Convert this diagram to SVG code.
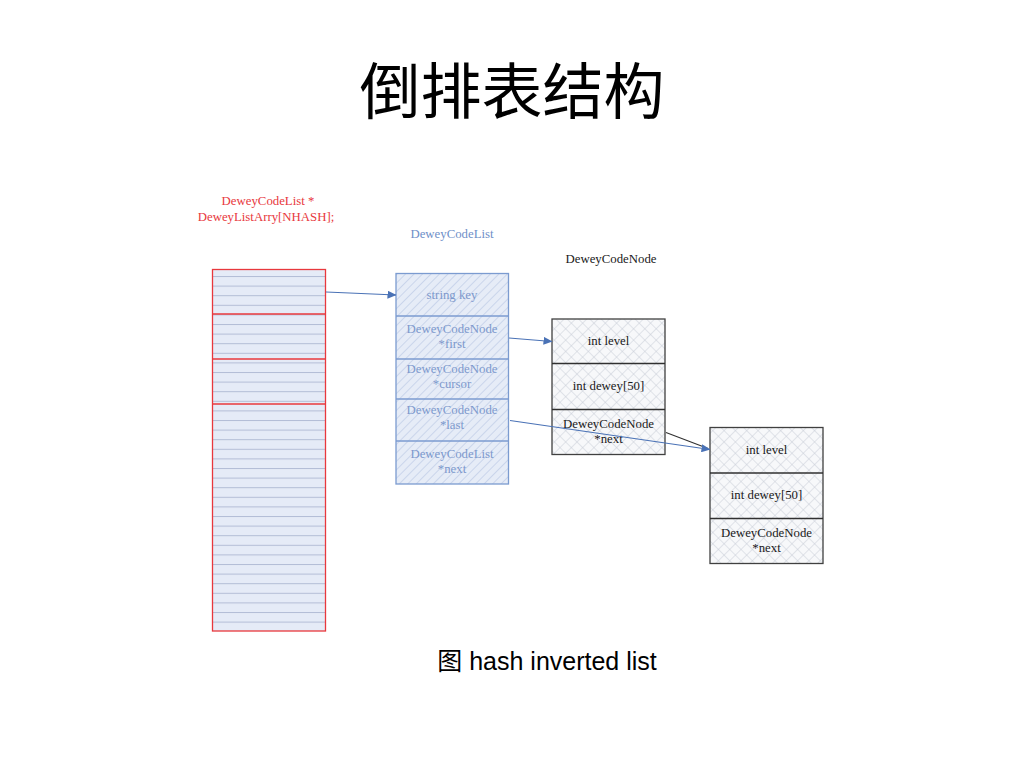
<svg xmlns="http://www.w3.org/2000/svg" width="1024" height="768" viewBox="0 0 1024 768">
<defs>
<style>
.t{font-family:"Liberation Serif","Times New Roman",serif;font-size:12.8px;text-anchor:middle}
.bt{fill:#7d99cd}
.kt{fill:#1a1a1a}
.conn{fill:none;stroke-width:1.1}
</style>
<pattern id="rows" patternUnits="userSpaceOnUse" x="0" y="276" width="20" height="9.6">
<rect width="20" height="9.6" fill="#e5ebf7"/>
<line x1="0" y1="0.4" x2="20" y2="0.4" stroke="#b3bdd6" stroke-width="1.2"/>
</pattern>
<pattern id="diag" patternUnits="userSpaceOnUse" width="6" height="6" patternTransform="rotate(45)">
<rect width="6" height="6" fill="#e6ecf7"/>
<line x1="0" y1="0" x2="0" y2="6" stroke="#c3cfe8" stroke-width="1.6"/>
</pattern>
<pattern id="cross" patternUnits="userSpaceOnUse" width="8" height="8" patternTransform="rotate(45)">
<rect width="8" height="8" fill="#f7f8fa"/>
<line x1="0" y1="0" x2="8" y2="0" stroke="#c8ccd6" stroke-width="1"/>
<line x1="0" y1="0" x2="0" y2="8" stroke="#c8ccd6" stroke-width="1"/>
</pattern>
<marker id="arr" markerWidth="9" markerHeight="8" refX="8.5" refY="4" orient="auto" markerUnits="userSpaceOnUse">
<path d="M0,0 L9,4 L0,8 Z" fill="#4a72b6"/>
</marker>
</defs>
<rect width="1024" height="768" fill="#ffffff"/>

<text x="512" y="114" font-family="Noto Sans CJK SC, sans-serif" font-size="61" text-anchor="middle" fill="#000">倒排表结构</text>

<g id="array-label">
<text x="268" y="205" class="t" font-size="13.3" fill="#e8383d">DeweyCodeList *</text>
<text x="266" y="221" class="t" font-size="13.3" fill="#e8383d">DeweyListArry[NHASH];</text>
</g>
<g id="list-label"><text x="452" y="238" class="t" font-size="13" fill="#6f8fc8">DeweyCodeList</text></g>
<g id="node-label"><text x="611" y="263" class="t kt" font-size="13">DeweyCodeNode</text></g>

<g id="hash-array">
<rect x="212.5" y="269.5" width="113" height="361.5" fill="url(#rows)" stroke="#e8383d" stroke-width="1.3"/>
<line x1="212.5" y1="314" x2="325.5" y2="314" stroke="#e8383d" stroke-width="1.6"/>
<line x1="212.5" y1="359" x2="325.5" y2="359" stroke="#e8383d" stroke-width="1.6"/>
<line x1="212.5" y1="404" x2="325.5" y2="404" stroke="#e8383d" stroke-width="1.6"/>
</g>

<g id="dewey-code-list">
<rect x="396" y="273.5" width="112.5" height="210.5" fill="url(#diag)" stroke="#7b9bd0" stroke-width="1.3"/>
<g stroke="#7b9bd0" stroke-width="1.3">
<line x1="396" y1="316" x2="508.5" y2="316"/>
<line x1="396" y1="359" x2="508.5" y2="359"/>
<line x1="396" y1="399" x2="508.5" y2="399"/>
<line x1="396" y1="441" x2="508.5" y2="441"/>
</g>
<text x="452" y="299" class="t bt">string key</text>
<text x="452" y="333" class="t bt">DeweyCodeNode</text>
<text x="452" y="348" class="t bt">*first</text>
<text x="452" y="373" class="t bt">DeweyCodeNode</text>
<text x="452" y="388" class="t bt">*cursor</text>
<text x="452" y="414" class="t bt">DeweyCodeNode</text>
<text x="452" y="429" class="t bt">*last</text>
<text x="452" y="458" class="t bt">DeweyCodeList</text>
<text x="452" y="473" class="t bt">*next</text>
</g>

<g id="node-1">
<rect x="552" y="319" width="113" height="135.5" fill="url(#cross)" stroke="#404040" stroke-width="1.3"/>
<g stroke="#303030" stroke-width="1.3">
<line x1="552" y1="363.5" x2="665" y2="363.5"/>
<line x1="552" y1="409.5" x2="665" y2="409.5"/>
</g>
<text x="608.5" y="345" class="t kt">int level</text>
<text x="608.5" y="390" class="t kt">int dewey[50]</text>
<text x="608.5" y="428" class="t kt">DeweyCodeNode</text>
<text x="608.5" y="443" class="t kt">*next</text>
</g>

<g id="node-2">
<rect x="710" y="427.5" width="113" height="136" fill="url(#cross)" stroke="#404040" stroke-width="1.3"/>
<g stroke="#303030" stroke-width="1.3">
<line x1="710" y1="473" x2="823" y2="473"/>
<line x1="710" y1="518.5" x2="823" y2="518.5"/>
</g>
<text x="766.5" y="454" class="t kt">int level</text>
<text x="766.5" y="499" class="t kt">int dewey[50]</text>
<text x="766.5" y="537" class="t kt">DeweyCodeNode</text>
<text x="766.5" y="552" class="t kt">*next</text>
</g>

<g id="connectors">
<line class="conn" x1="326" y1="292" x2="396" y2="295" stroke="#4a72b6" marker-end="url(#arr)"/>
<line class="conn" x1="509" y1="338" x2="552" y2="341.5" stroke="#4a72b6" marker-end="url(#arr)"/>
<line class="conn" x1="666" y1="432.5" x2="708" y2="448.5" stroke="#303030"/>
<line class="conn" x1="510" y1="420.5" x2="710" y2="449.5" stroke="#4a72b6" marker-end="url(#arr)"/>
</g>

<text x="547" y="670" font-family="Liberation Sans, Arial, Noto Sans CJK SC, sans-serif" font-size="25" text-anchor="middle" fill="#000">图 hash inverted list</text>
</svg>
